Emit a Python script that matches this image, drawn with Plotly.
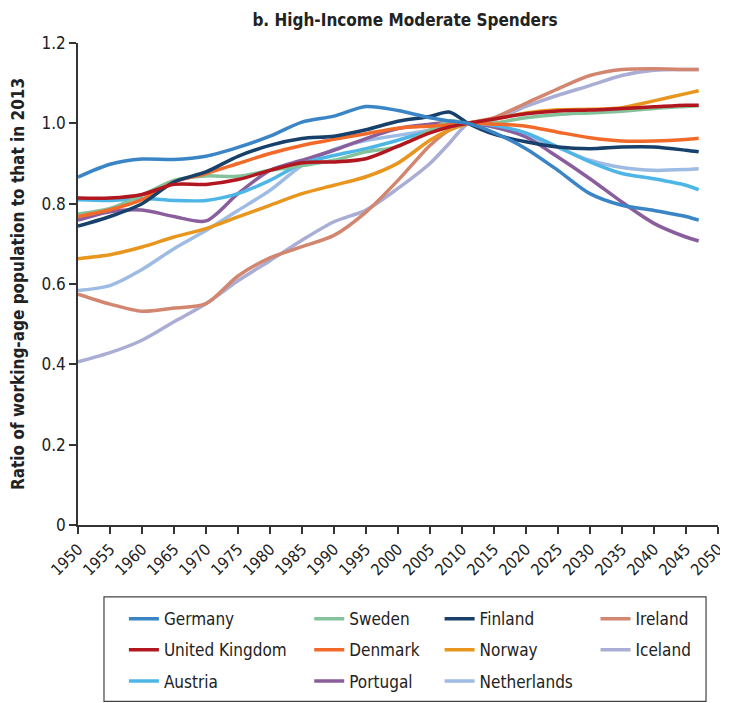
import plotly.graph_objects as go

years = [1950, 1955, 1960, 1965, 1970, 1975, 1980, 1985, 1990, 1995, 2000,
         2005, 2008, 2011, 2015, 2020, 2025, 2030, 2035, 2040, 2045, 2047]

germany = [0.866, 0.898, 0.911, 0.910, 0.918, 0.940, 0.968, 1.003, 1.018, 1.042, 1.032,
           1.014, 1.006, 1.000, 0.977, 0.937, 0.883, 0.825, 0.796, 0.783, 0.768, 0.759]
sweden = [0.774, 0.788, 0.821, 0.858, 0.869, 0.868, 0.883, 0.895, 0.908, 0.929, 0.942,
          0.983, 1.006, 1.000, 1.001, 1.014, 1.022, 1.026, 1.030, 1.037, 1.042, 1.044]
finland = [0.744, 0.768, 0.800, 0.854, 0.879, 0.918, 0.945, 0.962, 0.968, 0.984, 1.005,
           1.017, 1.028, 1.000, 0.973, 0.954, 0.941, 0.937, 0.941, 0.941, 0.933, 0.929]
ireland = [0.575, 0.550, 0.532, 0.540, 0.551, 0.620, 0.665, 0.693, 0.721, 0.779, 0.858,
           0.945, 0.983, 1.000, 1.014, 1.050, 1.086, 1.119, 1.134, 1.136, 1.134, 1.134]
united_kingdom = [0.814, 0.814, 0.823, 0.848, 0.848, 0.860, 0.883, 0.902, 0.904, 0.912, 0.943,
                  0.976, 0.991, 1.000, 1.011, 1.024, 1.031, 1.033, 1.037, 1.041, 1.045, 1.045]
denmark = [0.768, 0.785, 0.810, 0.854, 0.875, 0.900, 0.925, 0.945, 0.960, 0.974, 0.988,
           0.993, 0.996, 1.000, 0.998, 0.993, 0.978, 0.964, 0.956, 0.956, 0.960, 0.963]
norway = [0.663, 0.673, 0.692, 0.717, 0.738, 0.767, 0.796, 0.825, 0.846, 0.867, 0.901,
          0.958, 0.983, 1.000, 1.010, 1.026, 1.034, 1.035, 1.039, 1.056, 1.074, 1.081]
iceland = [0.406, 0.429, 0.460, 0.506, 0.551, 0.608, 0.658, 0.709, 0.755, 0.784, 0.838,
           0.900, 0.950, 1.000, 1.009, 1.042, 1.070, 1.094, 1.119, 1.132, 1.134, 1.134]
austria = [0.810, 0.808, 0.813, 0.808, 0.808, 0.825, 0.858, 0.900, 0.920, 0.937, 0.958,
           0.981, 0.991, 1.000, 0.995, 0.976, 0.941, 0.904, 0.875, 0.862, 0.846, 0.835]
portugal = [0.759, 0.780, 0.784, 0.768, 0.757, 0.825, 0.883, 0.908, 0.933, 0.962, 0.987,
            0.998, 1.003, 1.000, 0.991, 0.966, 0.916, 0.862, 0.804, 0.751, 0.717, 0.707]
netherlands = [0.584, 0.596, 0.636, 0.688, 0.733, 0.783, 0.833, 0.895, 0.935, 0.957, 0.970,
               0.983, 0.991, 1.000, 0.991, 0.968, 0.940, 0.908, 0.890, 0.883, 0.885, 0.887]

y_ticks = [0, 0.2, 0.4, 0.6, 0.8, 1.0, 1.2]
y_tick_labels = ["0", "0.2", "0.4", "0.6", "0.8", "1.0", "1.2"]
x_ticks = list(range(1950, 2051, 5))

FONT = "DejaVu Sans Condensed, Liberation Sans Narrow, Roboto, sans-serif"

series = [
    ("Germany", germany, "#3A85C6", "legend"),
    ("United Kingdom", united_kingdom, "#B2161F", "legend"),
    ("Austria", austria, "#4EB6E6", "legend"),
    ("Sweden", sweden, "#84C29B", "legend2"),
    ("Denmark", denmark, "#F26A2A", "legend2"),
    ("Portugal", portugal, "#8A5E9C", "legend2"),
    ("Finland", finland, "#17406A", "legend3"),
    ("Norway", norway, "#E8961E", "legend3"),
    ("Netherlands", netherlands, "#9EBBE4", "legend3"),
    ("Ireland", ireland, "#D2866F", "legend4"),
    ("Iceland", iceland, "#AAADD4", "legend4"),
]

draw_order = ["Iceland", "Ireland", "Netherlands", "Norway", "Portugal", "Austria",
              "Sweden", "Denmark", "Finland", "United Kingdom", "Germany"]
legend_rank = {s[0]: i for i, s in enumerate(series)}

fig = go.Figure()
lookup = {s[0]: s for s in series}
for name in draw_order:
    n, vals, col, leg = lookup[name]
    fig.add_trace(go.Scatter(
        x=years, y=vals, name=n, mode="lines",
        line=dict(color=col, width=3.5, shape="spline", smoothing=0.8),
        legend=leg, legendrank=legend_rank[n], legendgroup=n,
    ))

legend_common = dict(
    orientation="v", yanchor="top", xanchor="left",
    font=dict(family=FONT, size=17, color="#222"),
    bgcolor="rgba(0,0,0,0)", tracegroupgap=6, itemwidth=30,
)
LY = -0.158
# the page body adds an 8px margin; keep everything inside the visible window
fig.update_layout(
    width=712, height=695,
    margin=dict(l=70, r=2, t=35, b=178, autoexpand=False),
    paper_bgcolor="white", plot_bgcolor="white",
    title=dict(text="<b>b. High-Income Moderate Spenders</b>",
               x=0.5576, xref="container", xanchor="center", y=0.9827, yanchor="middle",
               font=dict(family=FONT, size=17, color="#222")),
    legend=dict(x=0.0717, y=LY, **legend_common),
    legend2=dict(x=0.3613, y=LY, **legend_common),
    legend3=dict(x=0.565, y=LY, **legend_common),
    legend4=dict(x=0.8086, y=LY, **legend_common),
    shapes=[dict(type="rect", xref="paper", yref="paper",
                 x0=0.0406, x1=0.9813, y0=-0.149, y1=-0.366,
                 line=dict(color="#444", width=1.2), fillcolor="rgba(0,0,0,0)")],
)
fig.update_xaxes(
    range=[1950, 2050.02], tickvals=x_ticks, tickangle=-45, automargin=False,
    ticklabeloverflow="allow",
    showline=True, linecolor="#333", linewidth=1.5,
    ticks="outside", ticklen=7, tickcolor="#333", tickwidth=1.5,
    showgrid=False, zeroline=False,
    tickfont=dict(family=FONT, size=16, color="#222"),
)
fig.update_yaxes(
    range=[0, 1.2], tickvals=y_ticks, ticktext=y_tick_labels, automargin=False,
    ticklabeloverflow="allow",
    showline=True, linecolor="#333", linewidth=1.5,
    ticks="outside", ticklen=7, tickcolor="#333", tickwidth=1.5,
    showgrid=False, zeroline=False,
    tickfont=dict(family=FONT, size=17, color="#222"),
    title=dict(text="<b>Ratio of working-age population to that in 2013</b>",
               font=dict(family=FONT, size=17, color="#222"), standoff=16),
)

fig.write_html("out.html")
